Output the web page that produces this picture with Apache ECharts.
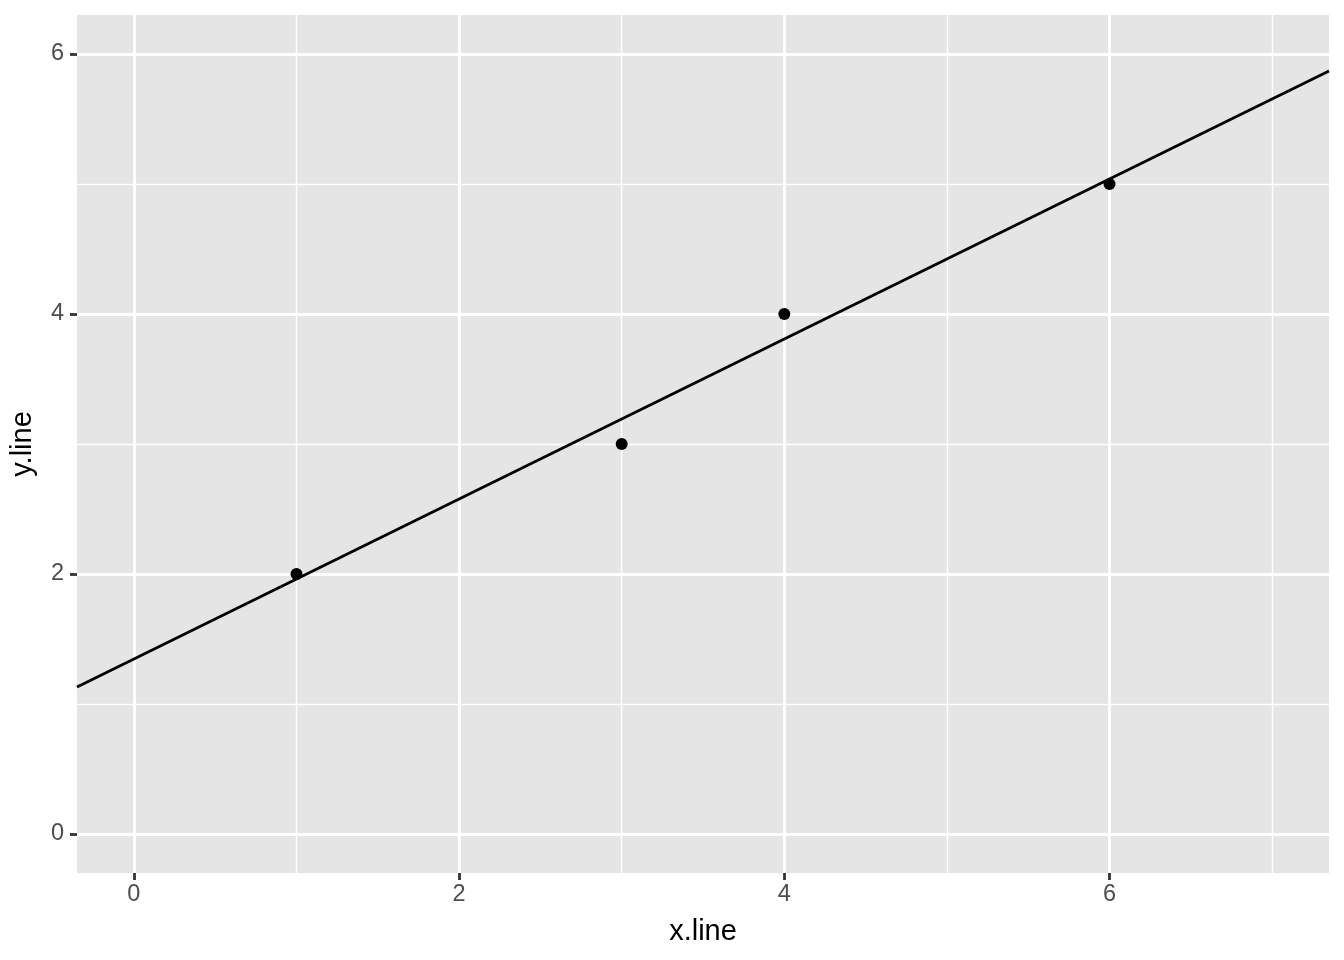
<!DOCTYPE html>
<html>
<head>
<meta charset="utf-8">
<script src="https://cdn.jsdelivr.net/npm/echarts@6/dist/echarts.min.js"></script>
<style>
html,body{margin:0;padding:0;background:#fff;}
#chart{width:1344px;height:960px;}
</style>
</head>
<body>
<div id="chart"></div>
<script>
// Data
var xPoints = [1, 3, 4, 6];
var yPoints = [2, 3, 4, 5];
var lineX = [-0.35, 7.35];
var lineY = [1.13, 5.87];
var xTicks = [0, 2, 4, 6];
var yTicks = [0, 2, 4, 6];
var xMinor = [1, 3, 5, 7];
var yMinor = [1, 3, 5];
var xRange = [-0.35, 7.35];
var yRange = [-0.3, 6.3];

var pts = xPoints.map(function (x, i) { return [x, yPoints[i]]; });
var linePts = lineX.map(function (x, i) { return [x, lineY[i]]; });

var minorData = xMinor.map(function (v) { return { xAxis: v }; })
  .concat(yMinor.map(function (v) { return { yAxis: v }; }));

var font = 'Liberation Sans, Arial, Helvetica, sans-serif';

var chart = echarts.init(document.getElementById('chart'), null, { renderer: 'canvas' });
chart.setOption({
  animation: false,
  backgroundColor: '#ffffff',
  grid: {
    left: 76, top: 15, right: 15, bottom: 87,
    show: true, backgroundColor: '#E5E5E5', borderWidth: 0
  },
  xAxis: {
    type: 'value', min: xRange[0], max: xRange[1],
    name: 'x.line', nameLocation: 'middle', nameGap: 44,
    nameTextStyle: { color: '#000000', fontSize: 29, fontFamily: font },
    axisLine: { show: false, onZero: false },
    axisTick: { show: true, length: 7, customValues: xTicks, lineStyle: { color: '#333333', width: 2.8 } },
    axisLabel: { customValues: xTicks, color: '#4D4D4D', fontSize: 23.5, fontFamily: font, margin: 10 },
    splitLine: { show: true, lineStyle: { color: '#ffffff', width: 2.8 } },
    minorTick: { show: false }
  },
  yAxis: {
    type: 'value', min: yRange[0], max: yRange[1],
    name: 'y.line', nameLocation: 'middle', nameGap: 40, nameRotate: 90,
    nameTextStyle: { color: '#000000', fontSize: 29, fontFamily: font },
    axisLine: { show: false, onZero: false },
    axisTick: { show: true, length: 7, customValues: yTicks, lineStyle: { color: '#333333', width: 2.8 } },
    axisLabel: { customValues: yTicks, color: '#4D4D4D', fontSize: 23.5, fontFamily: font, margin: 13 },
    splitLine: { show: true, lineStyle: { color: '#ffffff', width: 2.8 } }
  },
  series: [
    {
      type: 'line', data: [], z: 1, silent: true,
      markLine: {
        silent: true, symbol: 'none', animation: false, z: 1,
        label: { show: false },
        lineStyle: { color: '#ffffff', width: 1.4, type: 'solid' },
        emphasis: { disabled: true },
        data: minorData
      }
    },
    {
      type: 'line', data: linePts, z: 3, showSymbol: false, silent: true,
      lineStyle: { color: '#000000', width: 2.8 }
    },
    {
      type: 'scatter', data: pts, z: 4, symbol: 'circle', symbolSize: 12,
      itemStyle: { color: '#000000', opacity: 1 }
    }
  ]
});
</script>
</body>
</html>
